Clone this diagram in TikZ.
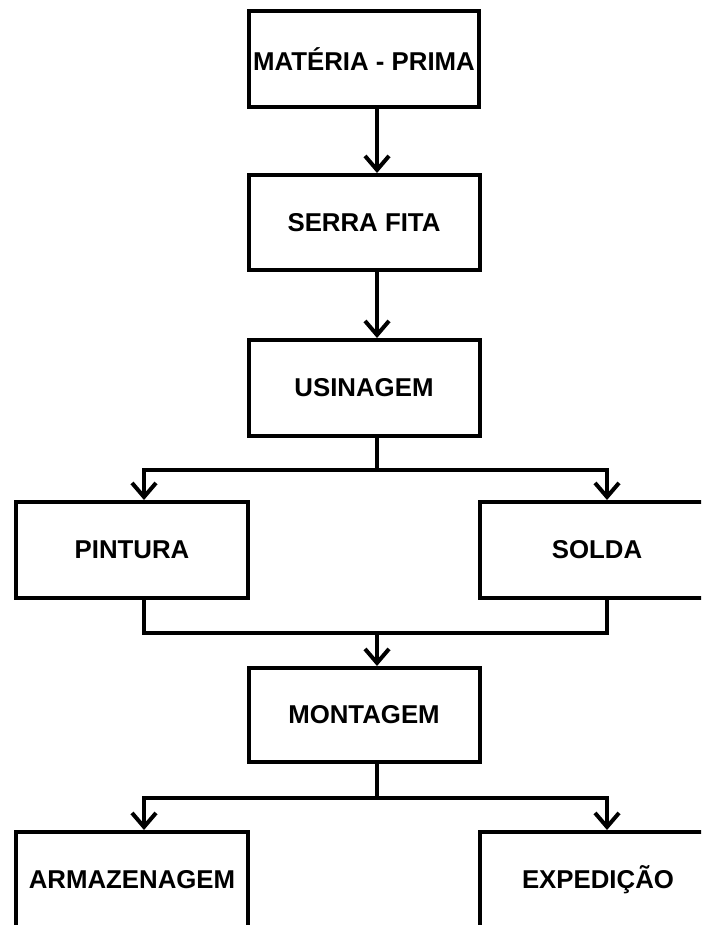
\documentclass[tikz,border=0pt]{standalone}
\usepackage{fontspec}
\setmainfont{Liberation Sans}
\usetikzlibrary{arrows.meta}
\begin{document}
\begin{tikzpicture}[x=1pt,y=-1pt,
  box/.style={draw, line width=4pt, minimum width=231pt, minimum height=95pt, inner sep=0pt,
    font=\fontsize{25.8}{30}\selectfont\bfseries},
  conn/.style={line width=4pt},
  arr/.style={conn, -{Straight Barb[length=14pt,width=24pt]}}]
\useasboundingbox (0,0) rectangle (701,925);
\clip (0,0) rectangle (701,925);
\fill[white] (0,0) rectangle (701,925);
\node[box, minimum width=230pt, minimum height=96pt] (mp) at (364,59) {MATÉRIA - PRIMA};
\node[box] (sf) at (364,222.5) {SERRA FITA};
\node[box, minimum height=96pt] (us) at (364,388) {USINAGEM};
\node[box, minimum width=232pt, minimum height=96pt] (pin) at (132,550) {PINTURA};
\node[box, minimum width=234pt, minimum height=96pt] (sol) at (597,550) {SOLDA};
\node[box, minimum height=94pt] (mon) at (364,715) {MONTAGEM};
\node[box, minimum width=232pt, minimum height=96pt] (arm) at (132,880) {ARMAZENAGEM};
\node[box, minimum width=236pt, minimum height=96pt] (exp) at (598,880) {EXPEDIÇÃO};
\coordinate (cx) at (377,0);
\coordinate (lx) at (144,0);
\coordinate (rx) at (607,0);
\coordinate (j1) at (377,470);
\coordinate (j2) at (377,633);
\coordinate (j3) at (377,798);
\draw[arr] (mp.south -| cx) -- (sf.north -| cx);
\draw[arr] (sf.south -| cx) -- (us.north -| cx);
\draw[conn] (us.south -| cx) -- (j1);
\draw[arr] (j1) -| (pin.north -| lx);
\draw[arr] (j1) -| (sol.north -| rx);
\draw[conn] (pin.south -| lx) |- (j2) -| (sol.south -| rx);
\draw[arr] (j2) -- (mon.north -| cx);
\draw[conn] (mon.south -| cx) -- (j3);
\draw[arr] (j3) -| (arm.north -| lx);
\draw[arr] (j3) -| (exp.north -| rx);
\end{tikzpicture}
\end{document}
